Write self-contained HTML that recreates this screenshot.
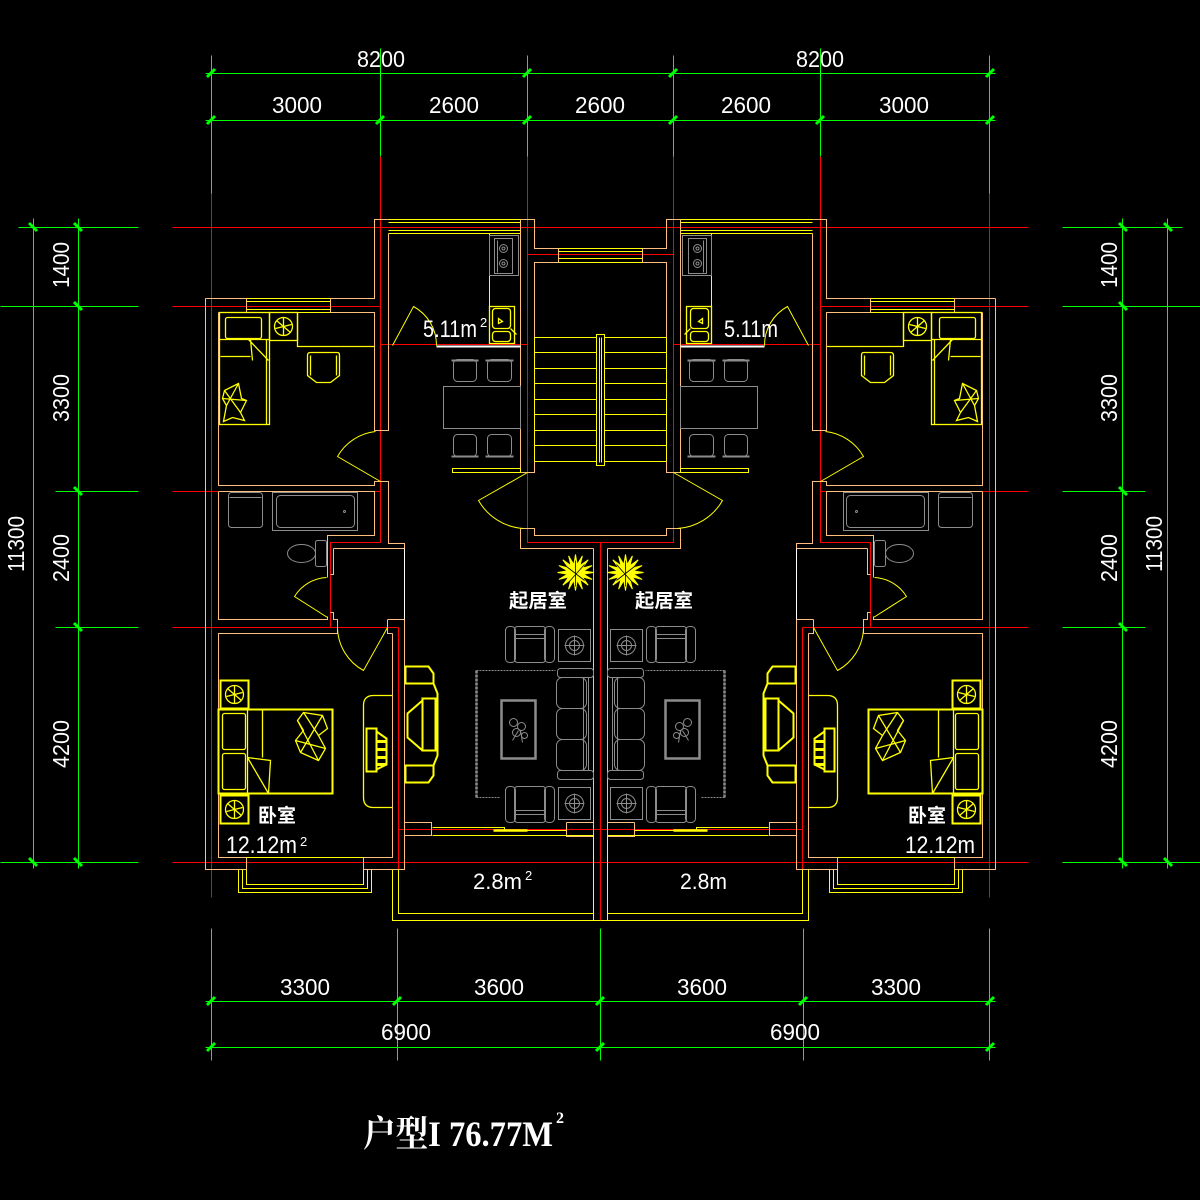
<!DOCTYPE html>
<html><head><meta charset="utf-8"><style>
html,body{margin:0;padding:0;background:#000;}
svg{display:block;}
text{font-family:"Liberation Sans","Noto Sans CJK SC",sans-serif;fill:#fff;}
.cjk{font-family:"Liberation Sans","Noto Sans CJK SC",sans-serif;font-weight:bold;}
</style></head><body>
<svg width="1200" height="1200" viewBox="0 0 1200 1200" xmlns="http://www.w3.org/2000/svg">
<rect width="1200" height="1200" fill="#000"/>
<defs>
<g id="half" fill="none" stroke-width="1">
<g transform="translate(0.5,0.5)">
 <!-- green dims -->
 <path stroke="#00FF00" d="M205,73H600M205,120H600M211,55V193M380,48V156M527,55V156
 M33,218V868M78,218V868M18,227H138M0,306H138M55,491H138M55,627H138M0,862H138
 M205,1001H600M205,1047H600M211,928V1060M397,928V1060M600,928V1060"/>
 <!-- red axes -->
 <path stroke="#FF0000" d="M172,227H600M172,306H380M172,491H380M172,627H398M172,862H600M380,344H527M527,254H600M398,829H600M211,193V897M380,156V542H330V627M527,156V542H600M600,542V920M398,627V897"/>
 <!-- peach walls -->
 <path stroke="#FFBF7F" d="
 M205,298V869H246 M363,869H404V619 M246,857V869 M363,857V869
 M205,298H246 M330,298H374V219H388 M246,298V312 M330,298V312
 M218,312H374V430H388V233
 M218,312V485H374V481H388V543H404V548
 M218,491H374V535H327V577 M327,616V619H218V491
 M333,548H404 M333,548V574H330 M330,612H333V619H337V633 M387,619H404 M387,619V633H392
 M337,633H218V857H392V633
 M404,822H431V835H404
 M593,548V836 M566,822H593 M566,822V836H593
 M520,219H534V248H558 M558,248V262 M520,219V472H534V262H600
 M520,528H534V535H600 M520,528V548H593"/>
 <!-- white -->
 <path stroke="#FFFFFF" d="M404,548V619"/>
 <path stroke="#FFFFFF" stroke-width="2" d="M436,346H520"/>
 <!-- yellow lines -->
 <path stroke="#FFFF00" d="
 M388,219H520 M388,222H520 M388,230H520 M388,233H520
 M246,298H330 M246,301H330 M246,309H330 M246,312H330
 M558,248H600 M558,251H600 M558,258H600 M558,262H600
 M246,857H363
 M238,869V892H371V869 M242,869V888H367V869 M246,869V884H363V869
 M392,869V920H600 M398,869V913H593 M593,835V920 M432,835H593
 M432,827H504V830H566
 M489,233V343
 M452,468H520V472H452Z
 M534,337H596 M534,352H596 M534,368H596 M534,383H596 M534,399H596 M534,414H596 M534,430H596 M534,445H596 M534,461H596
 M534,337V461
 M596,334H604V465H596Z M599,337V462"/>
 <path stroke="#FFFF00" stroke-width="2.5" d="M493,830H527"/>
 <!-- door swings -->
 <path stroke="#FFFF00" d="M392,345L413,306A44,44 0 0 1 436,345 M380,481L337,456A50,50 0 0 1 375,431 M527,472L478,500A56,56 0 0 0 523,528 M327,617L294,596A40,40 0 0 1 326,577 M387,627L363,670A50,50 0 0 1 337,628"/>
 <!-- bedroom 1 furniture -->
 <g stroke="#FFFF00" stroke-width="1.3">
  <rect x="219" y="312" width="50" height="112"/>
  <path d="M266,339V424 M219,339H269 M220,356H250 M248,339L268,360 M250,339L252,360"/>
  <rect x="225" y="317" width="36" height="21" rx="2"/>
  <polygon points="224,390 238,383 241,398 246,400 240,412 244,420 232,417 223,421 226,405 222,398"/>
  <path d="M224,390L240,412M238,383L226,405M222,398L246,400"/>
  <rect x="269" y="312" width="28" height="28"/>
  <circle cx="283" cy="326" r="9"/>
  <path d="M276,320L290,332M283,317V335M275,328L291,324"/>
  <path d="M297,312V346H374"/>
  <path d="M310,352H337Q339,352 339,355V375L330,382H316L307,375V355Q307,352 310,352Z M310,355V375M336,355V375"/>
 </g>
 <!-- bedroom 2 furniture -->
 <g stroke="#FFFF00" stroke-width="1.3">
  <rect x="220" y="680" width="28" height="28" stroke-width="2"/>
  <circle cx="234" cy="694" r="9"/>
  <path d="M227,688L241,700M234,685V703M226,696L242,692"/>
  <rect x="220" y="795" width="28" height="28" stroke-width="2"/>
  <circle cx="234" cy="809" r="9"/>
  <path d="M227,803L241,815M234,800V818M226,811L242,807"/>
  <rect x="218" y="709" width="114" height="84" stroke-width="2"/>
  <path d="M247,709V793 M262,709V757 M247,757L270,760L268,793 M247,757L268,793"/>
  <rect x="222" y="713" width="23" height="36" rx="2"/>
  <rect x="222" y="753" width="23" height="36" rx="2"/>
  <polygon points="303,712 322,715 327,728 318,735 325,748 318,760 300,752 295,740 303,730 297,720"/>
  <path d="M303,712L318,735M322,715L300,752M295,740L325,748M297,720L318,760"/>
  <path d="M392,695H373Q363,695 363,705V797Q363,807 373,807H392"/>
  <rect x="366" y="728" width="10" height="43" stroke-width="2"/>
  <path d="M376,731L386,738V764L376,769" stroke-width="2"/>
  <path d="M377,741H386M377,749H386M377,757H386M377,764H386" stroke-width="3"/>
 </g>
 <!-- living TV cabinet -->
 <path stroke="#FFFF00" stroke-width="2" d="M405,666H428L433,673V683H405Z M405,765H433V775L428,782H405Z M405,683H433L437,693V755L433,765 M422,698H435V750H422Z M422,700L407,713V737L422,750"/>
 <!-- kitchen sink -->
 <g stroke="#FFFF00" stroke-width="1.3">
  <rect x="489" y="306" width="25" height="37"/>
  <rect x="492" y="308" width="18" height="20" rx="3"/>
  <rect x="492" y="331" width="18" height="10" rx="3"/>
  <path d="M498,318L502,321L498,323Z M510,328L516,334"/>
 </g>
 <!-- gray furniture -->
 <g stroke="#8C8C8C" stroke-width="1">
  <rect x="489" y="235" width="29" height="40"/>
  <rect x="494" y="238" width="18" height="35"/>
  <path d="M497,240V272"/>
  <circle cx="503" cy="248" r="4"/><circle cx="503" cy="248" r="1.5"/>
  <circle cx="503" cy="263" r="4"/><circle cx="503" cy="263" r="1.5"/>
  <rect x="453" y="359" width="23" height="22" rx="4"/>
  <rect x="487" y="359" width="24" height="22" rx="4"/>
  <path d="M451,360H478M485,360H513M451,456H478M485,456H513" stroke-width="2"/>
  <rect x="443" y="386" width="77" height="42"/>
  <rect x="453" y="434" width="23" height="22" rx="4"/>
  <rect x="487" y="434" width="24" height="22" rx="4"/>
  <rect x="228" y="492" width="34" height="35" rx="3"/>
  <path d="M229,497H261"/>
  <rect x="272" y="492" width="85" height="38"/>
  <rect x="276" y="495" width="78" height="32" rx="4"/>
  <circle cx="344" cy="511" r="1"/>
  <ellipse cx="301" cy="553" rx="14" ry="9"/>
  <rect x="315" y="540" width="11" height="26" rx="2"/>
  <rect x="505" y="626" width="10" height="36" rx="4"/><rect x="544" y="626" width="10" height="36" rx="4"/><rect x="514" y="626" width="31" height="36" rx="3"/>
  <path d="M514,634H545M514,638H545"/>
  <rect x="558" y="629" width="32" height="32"/><circle cx="574" cy="645" r="9"/><circle cx="574" cy="645" r="5"/><path d="M574,635V655M564,645H584"/>
  <rect x="505" y="786" width="10" height="36" rx="4"/><rect x="544" y="786" width="10" height="36" rx="4"/><rect x="514" y="786" width="31" height="36" rx="3"/>
  <path d="M514,810H545M514,814H545"/>
  <rect x="558" y="787" width="32" height="32"/><circle cx="574" cy="803" r="9"/><circle cx="574" cy="803" r="5"/><path d="M574,793V813M564,803H584"/>
  <rect x="557" y="668" width="36" height="9" rx="3"/><rect x="557" y="770" width="36" height="9" rx="3"/>
  <rect x="556" y="677" width="30" height="31" rx="6"/><rect x="556" y="708" width="30" height="31" rx="6"/><rect x="556" y="739" width="30" height="31" rx="6"/>
  <path d="M583,677V770M588,677V770"/>
  <path d="M476,670V798" stroke-width="2.5" stroke-dasharray="3 1"/>
  <path d="M476,670H555M476,797H500" stroke-dasharray="2 1"/>
  <rect x="501" y="700" width="34" height="58" stroke-width="2.5"/>
  <circle cx="513" cy="722" r="4"/><circle cx="521" cy="726" r="4"/><circle cx="516" cy="732" r="4"/><circle cx="524" cy="735" r="3"/><path d="M512,740L518,730M522,742L520,730"/>
 </g>
 <!-- plant -->
 <polygon fill="#FFFF00" stroke="#FFFF00" stroke-width="1" points="593,572 582.8,573.6 591.6,578.9 581.7,576.4 587.7,584.7 579.4,578.7 581.9,588.6 576.6,579.8 575,590 573.4,579.8 568.1,588.6 570.6,578.7 562.3,584.7 568.3,576.4 558.4,578.9 567.2,573.6 557,572 567.2,570.4 558.4,565.1 568.3,567.6 562.3,559.3 570.6,565.3 568.1,555.4 573.4,564.2 575,554 576.6,564.2 581.9,555.4 579.4,565.3 587.7,559.3 581.7,567.6 591.6,565.1 582.8,570.4"/>
 <path stroke="#000" stroke-width="0.8" d="M566,566L584,580M584,564L568,582M575,560V586"/>
</g>
</g>
</defs>
<use href="#half"/>
<use href="#half" transform="translate(1201,0) scale(-1,1)"/>

<!-- ticks -->
<path stroke="#00FF00" stroke-width="3" fill="none" d="
M207,77L215,69M523,77L531,69M669,77L677,69M986,77L994,69
M207,124L215,116M376,124L384,116M523,124L531,116M669,124L677,116M816,124L824,116M986,124L994,116
M29,223L37,231M29,858L37,866M74,223L82,231M74,302L82,310M74,487L82,495M74,623L82,631M74,858L82,866
M1119,223L1127,231M1119,302L1127,310M1119,487L1127,495M1119,623L1127,631M1119,858L1127,866M1164,223L1172,231M1164,858L1172,866
M207,1005L215,997M393,1005L401,997M596,1005L604,997M799,1005L807,997M986,1005L994,997
M207,1051L215,1043M596,1051L604,1043M986,1051L994,1043"/>

<!-- dimension text -->
<g font-size="23" text-anchor="middle">
 <text x="381" y="67" textLength="48" lengthAdjust="spacingAndGlyphs">8200</text>
 <text x="820" y="67" textLength="48" lengthAdjust="spacingAndGlyphs">8200</text>
 <text x="297" y="113" textLength="50" lengthAdjust="spacingAndGlyphs">3000</text>
 <text x="454" y="113" textLength="50" lengthAdjust="spacingAndGlyphs">2600</text>
 <text x="600" y="113" textLength="50" lengthAdjust="spacingAndGlyphs">2600</text>
 <text x="746" y="113" textLength="50" lengthAdjust="spacingAndGlyphs">2600</text>
 <text x="904" y="113" textLength="50" lengthAdjust="spacingAndGlyphs">3000</text>
 <text x="305" y="995" textLength="50" lengthAdjust="spacingAndGlyphs">3300</text>
 <text x="499" y="995" textLength="50" lengthAdjust="spacingAndGlyphs">3600</text>
 <text x="702" y="995" textLength="50" lengthAdjust="spacingAndGlyphs">3600</text>
 <text x="896" y="995" textLength="50" lengthAdjust="spacingAndGlyphs">3300</text>
 <text x="406" y="1040" textLength="50" lengthAdjust="spacingAndGlyphs">6900</text>
 <text x="795" y="1040" textLength="50" lengthAdjust="spacingAndGlyphs">6900</text>
 <text transform="translate(69,265) rotate(-90)" textLength="46" lengthAdjust="spacingAndGlyphs">1400</text>
 <text transform="translate(69,398) rotate(-90)" textLength="48" lengthAdjust="spacingAndGlyphs">3300</text>
 <text transform="translate(69,558) rotate(-90)" textLength="48" lengthAdjust="spacingAndGlyphs">2400</text>
 <text transform="translate(69,744) rotate(-90)" textLength="48" lengthAdjust="spacingAndGlyphs">4200</text>
 <text transform="translate(24,544) rotate(-90)" textLength="56" lengthAdjust="spacingAndGlyphs">11300</text>
 <text transform="translate(1117,265) rotate(-90)" textLength="46" lengthAdjust="spacingAndGlyphs">1400</text>
 <text transform="translate(1117,398) rotate(-90)" textLength="48" lengthAdjust="spacingAndGlyphs">3300</text>
 <text transform="translate(1117,558) rotate(-90)" textLength="48" lengthAdjust="spacingAndGlyphs">2400</text>
 <text transform="translate(1117,744) rotate(-90)" textLength="48" lengthAdjust="spacingAndGlyphs">4200</text>
 <text transform="translate(1162,544) rotate(-90)" textLength="56" lengthAdjust="spacingAndGlyphs">11300</text>
</g>

<!-- room labels -->
<g font-size="24">
 <text x="423" y="337" textLength="54" lengthAdjust="spacingAndGlyphs">5.11m</text>
 <text x="480" y="327" font-size="13">2</text>
 <text x="724" y="337" textLength="54" lengthAdjust="spacingAndGlyphs">5.11m</text>
 <text x="226" y="853" textLength="71" lengthAdjust="spacingAndGlyphs">12.12m</text>
 <text x="300" y="846" font-size="13">2</text>
 <text x="905" y="853" textLength="70" lengthAdjust="spacingAndGlyphs">12.12m</text>
 <text x="473" y="889" font-size="22" textLength="49" lengthAdjust="spacingAndGlyphs">2.8m</text>
 <text x="525" y="880" font-size="13">2</text>
 <text x="680" y="889" font-size="22" textLength="47" lengthAdjust="spacingAndGlyphs">2.8m</text>
</g>
<g class="cjk" font-size="19">
 <text x="509" y="607" textLength="58" lengthAdjust="spacingAndGlyphs">起居室</text>
 <text x="635" y="607" textLength="58" lengthAdjust="spacingAndGlyphs">起居室</text>
 <text x="258" y="822" textLength="38" lengthAdjust="spacingAndGlyphs">卧室</text>
 <text x="908" y="822" textLength="38" lengthAdjust="spacingAndGlyphs">卧室</text>
</g>

<!-- title -->
<text x="363" y="1146" font-size="36" font-weight="bold" style="font-family:'Liberation Serif','Noto Serif CJK SC',serif" textLength="190" lengthAdjust="spacingAndGlyphs">户型I 76.77M</text>
<text x="556" y="1123" font-size="16" font-weight="bold" style="font-family:'Liberation Serif',serif">2</text>
</svg>
</body></html>
